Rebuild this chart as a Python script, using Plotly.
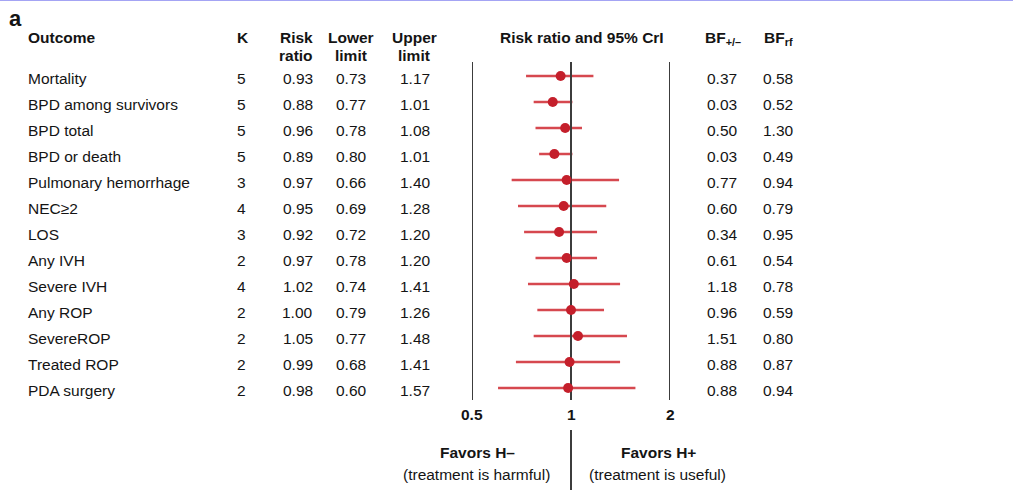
import math
import plotly.graph_objects as go

outcomes = ["Mortality", "BPD among survivors", "BPD total", "BPD or death",
            "Pulmonary hemorrhage", "NEC\u22652", "LOS", "Any IVH", "Severe IVH",
            "Any ROP", "SevereROP", "Treated ROP", "PDA surgery"]
k_vals = [5, 5, 5, 5, 3, 4, 3, 2, 4, 2, 2, 2, 2]
risk_ratio = [0.93, 0.88, 0.96, 0.89, 0.97, 0.95, 0.92, 0.97, 1.02, 1.00, 1.05, 0.99, 0.98]
lower_limit = [0.73, 0.77, 0.78, 0.80, 0.66, 0.69, 0.72, 0.78, 0.74, 0.79, 0.77, 0.68, 0.60]
upper_limit = [1.17, 1.01, 1.08, 1.01, 1.40, 1.28, 1.20, 1.20, 1.41, 1.26, 1.48, 1.41, 1.57]
bf_pm = [0.37, 0.03, 0.50, 0.03, 0.77, 0.60, 0.34, 0.61, 1.18, 0.96, 1.51, 0.88, 0.88]
bf_rf = [0.58, 0.52, 1.30, 0.49, 0.94, 0.79, 0.95, 0.54, 0.78, 0.59, 0.80, 0.87, 0.94]
tick_vals = [0.5, 1, 2]
tick_labels = ["0.5", "1", "2"]

W, H = 1013, 498
FONT = "Liberation Sans, Arial, sans-serif"
TXT = "#141414"
FS = 15.5
ROW0, STEP = 76.0, 26.0
PAD = 2  # annotation inner padding compensation

def py(p):  # pixel y -> row units
    return (p - ROW0) / STEP

def px(p):  # pixel x -> paper
    return p / W

def ppy(p):  # pixel y -> paper
    return 1 - p / H

rows = list(range(len(outcomes)))
fig = go.Figure()

# CI lines
cx, cy = [], []
for i, lo, hi in zip(rows, lower_limit, upper_limit):
    cx += [lo, hi, None]
    cy += [i, i, None]
fig.add_trace(go.Scatter(x=cx, y=cy, mode="lines",
                         line=dict(color="#d6484f", width=2.5),
                         hoverinfo="skip", showlegend=False))

# reference lines
for v in tick_vals:
    fig.add_trace(go.Scatter(x=[v, v], y=[py(62), py(400)], mode="lines",
                             line=dict(color="#3c3c3c", width=2),
                             hoverinfo="skip", showlegend=False))
fig.add_trace(go.Scatter(x=[1, 1], y=[py(430), py(490)], mode="lines",
                         line=dict(color="#3c3c3c", width=2),
                         hoverinfo="skip", showlegend=False))

# point estimates
fig.add_trace(go.Scatter(x=risk_ratio, y=rows, mode="markers",
                         marker=dict(color="#c41f2b", size=10, line=dict(width=0)),
                         showlegend=False))

ann = []
def A(text, x, y, xanchor="center", yref="paper", bold=False, size=FS, yshift=0):
    if bold:
        text = "<b>" + text + "</b>"
    xshift = -PAD if xanchor == "left" else (PAD if xanchor == "right" else 0)
    ann.append(dict(text=text, x=x, y=y, xref="paper", yref=yref,
                    xanchor=xanchor, yanchor="middle", showarrow=False,
                    xshift=xshift, yshift=yshift,
                    font=dict(family=FONT, size=size, color=TXT)))

# panel label
A("a", px(9), ppy(18), xanchor="left", bold=True, size=22)

# headers
A("Outcome", px(28), ppy(37), xanchor="left", bold=True)
A("K", px(237), ppy(37), xanchor="left", bold=True)
A("Risk", px(313), ppy(37), xanchor="right", bold=True)
A("ratio", px(313), ppy(55), xanchor="right", bold=True)
A("Lower", px(351), ppy(37), bold=True)
A("limit", px(351), ppy(55), bold=True)
A("Upper", px(414), ppy(37), bold=True)
A("limit", px(414), ppy(55), bold=True)
A("Risk ratio and 95% CrI", px(582), ppy(37), bold=True)
A("BF<sub>+/\u2013</sub>", px(705), ppy(39), xanchor="left", bold=True)
A("BF<sub>rf</sub>", px(764), ppy(39), xanchor="left", bold=True)

# rows
for i in rows:
    A(outcomes[i], px(28), i, xanchor="left", yref="y", yshift=-2)
    A(str(k_vals[i]), px(237), i, xanchor="left", yref="y", yshift=-2)
    A(f"{risk_ratio[i]:.2f}", px(313), i, xanchor="right", yref="y", yshift=-2)
    A(f"{lower_limit[i]:.2f}", px(351), i, yref="y", yshift=-2)
    A(f"{upper_limit[i]:.2f}", px(415), i, yref="y", yshift=-2)
    A(f"{bf_pm[i]:.2f}", px(707), i, xanchor="left", yref="y", yshift=-2)
    A(f"{bf_rf[i]:.2f}", px(763), i, xanchor="left", yref="y", yshift=-2)

# tick labels
for v, t in zip(tick_vals, tick_labels):
    ann.append(dict(text="<b>" + t + "</b>", x=math.log10(v), y=py(414),
                    xref="x", yref="y", xanchor="center", yanchor="middle",
                    showarrow=False, font=dict(family=FONT, size=FS, color=TXT)))

# favors
A("Favors H\u2013", px(477), ppy(452), bold=True)
A("(treatment is harmful)", px(476), ppy(474))
A("Favors H+", px(658), ppy(452), bold=True)
A("(treatment is useful)", px(657), ppy(474))

fig.update_layout(
    width=W, height=H,
    margin=dict(l=0, r=0, t=0, b=0, autoexpand=False),
    paper_bgcolor="white", plot_bgcolor="white",
    xaxis=dict(type="log", range=[math.log10(0.5), math.log10(2)],
               domain=[px(472), px(670)], showgrid=False, zeroline=False,
               showticklabels=False, showline=False, ticks="", fixedrange=True),
    yaxis=dict(range=[py(H), py(0)], showgrid=False, zeroline=False,
               showticklabels=False, showline=False, ticks="", fixedrange=True),
    annotations=ann,
    shapes=[dict(type="line", xref="paper", yref="paper", x0=0, x1=1, y0=1, y1=1,
                 line=dict(color="#a4a4f4", width=2))],
    showlegend=False,
)

fig.write_html("out.html", config={"displayModeBar": False})
